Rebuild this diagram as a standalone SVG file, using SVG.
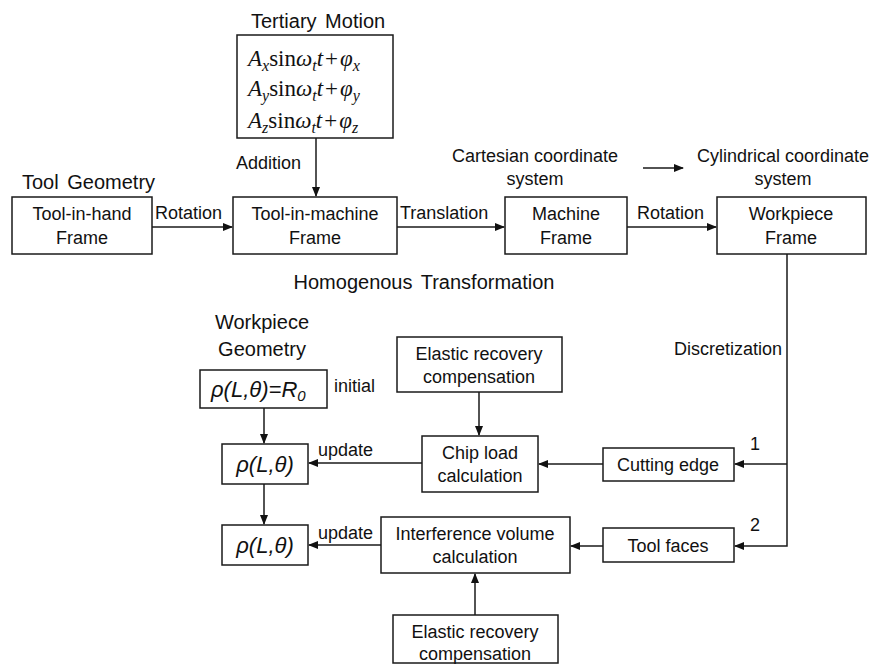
<svg xmlns="http://www.w3.org/2000/svg" width="879" height="667" viewBox="0 0 879 667">
<style>
.box{fill:#fff;stroke:#1a1a1a;stroke-width:1.5}
.t{font-family:"Liberation Sans",Arial,sans-serif;font-size:18px;fill:#111}
.h{font-family:"Liberation Sans",Arial,sans-serif;font-size:20px;fill:#111;word-spacing:3px}
.m{font-family:"Liberation Serif","Times New Roman",serif;font-size:23px;fill:#111}
.r{font-family:"Liberation Sans",Arial,sans-serif;font-size:22px;font-style:italic;fill:#111}
.c{fill:none;stroke:#1a1a1a;stroke-width:1.5}
</style>
<defs>
<marker id="a" markerWidth="10" markerHeight="8" refX="9" refY="4" orient="auto" markerUnits="userSpaceOnUse">
<path d="M0,0 L10,4 L0,8 Z" fill="#111"/>
</marker>
</defs>
<rect width="879" height="667" fill="#fff"/>

<text class="h" x="251" y="28">Tertiary Motion</text>
<text class="h" x="22" y="189">Tool Geometry</text>
<text class="t" x="535" y="162" text-anchor="middle">Cartesian coordinate</text>
<text class="t" x="535" y="185" text-anchor="middle">system</text>
<text class="t" x="783" y="162" text-anchor="middle">Cylindrical coordinate</text>
<text class="t" x="783" y="185" text-anchor="middle">system</text>
<text class="h" x="424" y="289" text-anchor="middle">Homogenous Transformation</text>
<text class="h" x="262" y="329" text-anchor="middle">Workpiece</text>
<text class="h" x="262" y="356" text-anchor="middle">Geometry</text>

<g id="tertiary">
<rect class="box" x="237" y="35" width="156" height="103"/>
<text class="m" x="248" y="66"><tspan font-style="italic">A</tspan><tspan font-style="italic" font-size="16" dy="5">x</tspan><tspan dy="-5">sin</tspan><tspan font-style="italic">ω</tspan><tspan font-style="italic" font-size="16" dy="5">t</tspan><tspan font-style="italic" dy="-5">t</tspan><tspan dx="2">+</tspan><tspan font-style="italic" dx="2">φ</tspan><tspan font-style="italic" font-size="16" dy="5">x</tspan></text>
<text class="m" x="248" y="96"><tspan font-style="italic">A</tspan><tspan font-style="italic" font-size="16" dy="5">y</tspan><tspan dy="-5">sin</tspan><tspan font-style="italic">ω</tspan><tspan font-style="italic" font-size="16" dy="5">t</tspan><tspan font-style="italic" dy="-5">t</tspan><tspan dx="2">+</tspan><tspan font-style="italic" dx="2">φ</tspan><tspan font-style="italic" font-size="16" dy="5">y</tspan></text>
<text class="m" x="248" y="128"><tspan font-style="italic">A</tspan><tspan font-style="italic" font-size="16" dy="5">z</tspan><tspan dy="-5">sin</tspan><tspan font-style="italic">ω</tspan><tspan font-style="italic" font-size="16" dy="5">t</tspan><tspan font-style="italic" dy="-5">t</tspan><tspan dx="2">+</tspan><tspan font-style="italic" dx="2">φ</tspan><tspan font-style="italic" font-size="16" dy="5">z</tspan></text>
</g>

<g id="toolinhand">
<rect class="box" x="12" y="197" width="140" height="57"/>
<text class="t" x="82" y="220" text-anchor="middle">Tool-in-hand</text>
<text class="t" x="82" y="244" text-anchor="middle">Frame</text>
</g>
<g id="toolinmachine">
<rect class="box" x="233" y="197" width="164" height="57"/>
<text class="t" x="315" y="220" text-anchor="middle">Tool-in-machine</text>
<text class="t" x="315" y="244" text-anchor="middle">Frame</text>
</g>
<g id="machine">
<rect class="box" x="505" y="197" width="122" height="57"/>
<text class="t" x="566" y="220" text-anchor="middle">Machine</text>
<text class="t" x="566" y="244" text-anchor="middle">Frame</text>
</g>
<g id="workpiece">
<rect class="box" x="717" y="197" width="149" height="57"/>
<text class="t" x="791" y="220" text-anchor="middle">Workpiece</text>
<text class="t" x="791" y="244" text-anchor="middle">Frame</text>
</g>

<g id="rho0">
<rect class="box" x="200" y="370" width="127" height="38"/>
<text class="r" x="211" y="397">ρ(L,θ)=R<tspan font-size="15" dy="4">0</tspan></text>
</g>
<text class="t" x="334" y="392">initial</text>
<g id="rho1">
<rect class="box" x="222" y="444" width="86" height="40"/>
<text class="r" x="265" y="472" text-anchor="middle">ρ(L,θ)</text>
</g>
<g id="rho2">
<rect class="box" x="222" y="525" width="86" height="40"/>
<text class="r" x="265" y="553" text-anchor="middle">ρ(L,θ)</text>
</g>

<g id="elastic1">
<rect class="box" x="397" y="337" width="165" height="55"/>
<text class="t" x="479" y="360" text-anchor="middle">Elastic recovery</text>
<text class="t" x="479" y="383" text-anchor="middle">compensation</text>
</g>
<g id="chipload">
<rect class="box" x="422" y="436" width="116" height="56"/>
<text class="t" x="480" y="459" text-anchor="middle">Chip load</text>
<text class="t" x="480" y="482" text-anchor="middle">calculation</text>
</g>
<g id="cuttingedge">
<rect class="box" x="603" y="448" width="131" height="33"/>
<text class="t" x="668" y="471" text-anchor="middle">Cutting edge</text>
</g>
<g id="toolfaces">
<rect class="box" x="603" y="528" width="131" height="34"/>
<text class="t" x="668" y="552" text-anchor="middle">Tool faces</text>
</g>
<g id="interference">
<rect class="box" x="381" y="517" width="189" height="56"/>
<text class="t" x="475" y="540" text-anchor="middle">Interference volume</text>
<text class="t" x="475" y="563" text-anchor="middle">calculation</text>
</g>
<g id="elastic2">
<rect class="box" x="393" y="615" width="165" height="48"/>
<text class="t" x="475" y="638" text-anchor="middle">Elastic recovery</text>
<text class="t" x="475" y="660" text-anchor="middle">compensation</text>
</g>

<g id="connectors">
<line class="c" x1="316" y1="138" x2="316" y2="196" marker-end="url(#a)"/>
<line class="c" x1="152" y1="227" x2="232" y2="227" marker-end="url(#a)"/>
<line class="c" x1="397" y1="227" x2="504" y2="227" marker-end="url(#a)"/>
<line class="c" x1="627" y1="227" x2="716" y2="227" marker-end="url(#a)"/>
<line class="c" x1="643" y1="168" x2="683" y2="168" marker-end="url(#a)"/>
<polyline class="c" points="787,254 787,546 735,546" marker-end="url(#a)"/>
<line class="c" x1="787" y1="464" x2="735" y2="464" marker-end="url(#a)"/>
<line class="c" x1="603" y1="464" x2="539" y2="464" marker-end="url(#a)"/>
<line class="c" x1="422" y1="463" x2="309" y2="463" marker-end="url(#a)"/>
<line class="c" x1="479" y1="392" x2="479" y2="435" marker-end="url(#a)"/>
<line class="c" x1="264" y1="408" x2="264" y2="443" marker-end="url(#a)"/>
<line class="c" x1="264" y1="484" x2="264" y2="524" marker-end="url(#a)"/>
<line class="c" x1="603" y1="546" x2="571" y2="546" marker-end="url(#a)"/>
<line class="c" x1="381" y1="545" x2="309" y2="545" marker-end="url(#a)"/>
<line class="c" x1="475" y1="615" x2="475" y2="574" marker-end="url(#a)"/>
<text class="t" x="236" y="169">Addition</text>
<text class="t" x="155" y="219">Rotation</text>
<text class="t" x="400" y="219">Translation</text>
<text class="t" x="637" y="219">Rotation</text>
<text class="t" x="782" y="355" text-anchor="end">Discretization</text>
<text class="t" x="318" y="456">update</text>
<text class="t" x="318" y="539">update</text>
<text class="t" x="750" y="450" font-size="20">1</text>
<text class="t" x="750" y="531" font-size="20">2</text>
</g>
</svg>
